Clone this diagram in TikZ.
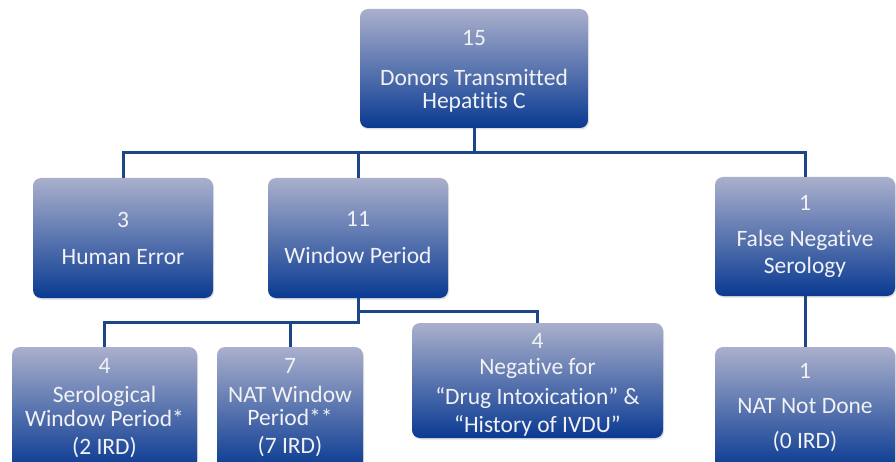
\documentclass[tikz,border=0pt]{standalone}
\usepackage{fontspec}
\setmainfont{Carlito}[Ligatures=NoCommon]
\usetikzlibrary{shadows}

\definecolor{boxtop}{RGB}{170,176,204}
\definecolor{boxbot}{RGB}{10,58,146}
\definecolor{linkblue}{RGB}{28,70,134}
\definecolor{boxtext}{RGB}{242,242,245}

\tikzset{
  cbox/.style={rectangle, rounded corners=8pt, top color=boxtop, bottom color=boxbot,
    text=boxtext, align=center, inner sep=0pt, font=\fontsize{23.5}{20}\selectfont,
    drop shadow={shadow xshift=1pt, shadow yshift=-1.5pt, opacity=0.25}},
  conn/.style={draw=linkblue, line width=3pt},
}
\newcommand{\tallrow}[1]{\rule{0pt}{#1}}

\begin{document}
\begin{tikzpicture}[x=1pt, y=-1pt]
    \useasboundingbox (0,0) rectangle (896,462);
    % first level
    \node[cbox, minimum width=228pt, minimum height=119pt] (donors) at (474,68.5)
        {\tallrow{20pt}15\\[20pt] Donors Transmitted\\[3pt] Hepatitis C};
    \node[cbox, minimum width=180pt, minimum height=120pt] (human) at (123,238)
        {3\\[17pt] Human Error};
    \node[cbox, minimum width=180pt, minimum height=120pt] (window) at (358,238)
        {11\\[17pt] Window Period};
    \node[cbox, minimum width=180pt, minimum height=119pt] (falseneg) at (805,236.5)
        {1\\[16pt] False Negative\\[6pt] Serology};
    % second level
    \node[cbox, minimum width=185pt, minimum height=122pt] (serol) at (104.5,408)
        {4\\[9pt] Serological\\[3pt] Window Period*\\[8pt] (2 IRD)};
    \node[cbox, minimum width=146pt, minimum height=122pt] (natwin) at (290,408)
        {7\\[9pt] NAT Window\\[3pt] Period**\\[8pt] (7 IRD)};
    \node[cbox, minimum width=251pt, minimum height=115pt] (drugneg) at (537.5,380.5)
        {\tallrow{23pt}4\\[6pt] Negative for\\[8pt] “Drug Intoxication” \&\\[6pt] “History of IVDU”};
    \node[cbox, minimum width=180pt, minimum height=122pt] (natnot) at (805,408)
        {1\\[15pt] NAT Not Done\\[15pt] (0 IRD)};
    % connectors
    \coordinate (split1) at (474,153);
    \coordinate (split2) at (358,322);
    \coordinate (split3) at (358,311);
    \draw[conn] (donors.south) -- (split1);
    \draw[conn] (human.north) |- (split1) -| (falseneg.north);
    \draw[conn] (window.north) -- (window.north |- split1);
    \draw[conn] (window.south) -- (split2) -| (serol.north);
    \draw[conn] (natwin.north) -- (natwin.north |- split2);
    \draw[conn] (split3) -| (drugneg.north);
    \draw[conn] (falseneg.south) -- (natnot.north);
\end{tikzpicture}
\end{document}
